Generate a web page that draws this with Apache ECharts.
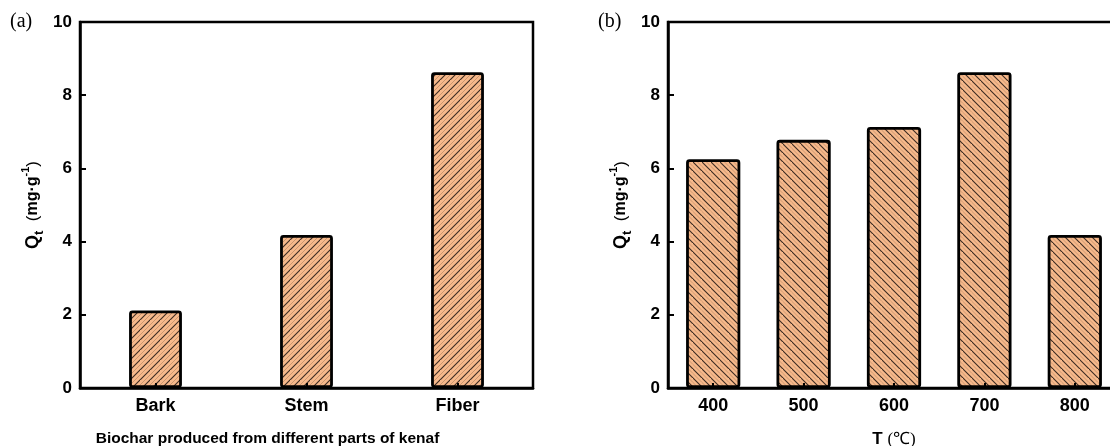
<!DOCTYPE html>
<html>
<head>
<meta charset="utf-8">
<script src="https://cdn.jsdelivr.net/npm/echarts@6/dist/echarts.min.js"></script>
<style>
  html, body { margin: 0; padding: 0; background: #fff; }
  #chart { width: 1110px; height: 446px; }
</style>
</head>
<body>
<div id="chart"></div>
<script>
// Adsorption capacity of kenaf biochar
const partCategories = ['Bark', 'Stem', 'Fiber'];
const partQt = [2.12, 4.18, 8.63];

const tempCategories = ['400', '500', '600', '700', '800'];
const tempQt = [6.25, 6.78, 7.13, 8.63, 4.18];

const yMin = 0;
const yMax = 10;
const yInterval = 2;

const FILL = '#F7B98B';

// Diagonal hatch tile: dark strokes with lighter strokes in between.
function hatchTile(size, forward) {
  const c = document.createElement('canvas');
  c.width = size; c.height = size;
  const g = c.getContext('2d');
  g.fillStyle = FILL;
  g.fillRect(0, 0, size, size);
  const lines = [
    { k: 0, color: '#3a2a20', w: 1.1 },
    { k: 0.5, color: '#c99670', w: 1 },
    { k: 1, color: '#3a2a20', w: 1.1 },
    { k: 1.5, color: '#c99670', w: 1 },
    { k: 2, color: '#3a2a20', w: 1.1 }
  ];
  lines.forEach(function (l) {
    const cc = l.k * size;
    g.strokeStyle = l.color;
    g.lineWidth = l.w;
    g.beginPath();
    if (forward) {
      // "/" lines: x + y = cc
      g.moveTo(cc, 0); g.lineTo(0, cc);
    } else {
      // "\" lines: (size - x) + y = cc
      g.moveTo(size - cc, 0); g.lineTo(size, cc);
    }
    g.stroke();
  });
  return c;
}

const FONT = '"Liberation Sans", Arial, sans-serif';
const SERIF = '"Liberation Serif", "Times New Roman", serif';

function yName() {
  return '{q|Q}{t|t}{p|  (}{u|mg·g}{s|-1}{p|)}';
}
const yNameRich = {
  q: { fontFamily: FONT, fontWeight: 'bold', fontSize: 18, color: '#000', lineHeight: 26, verticalAlign: 'middle' },
  t: { fontFamily: FONT, fontWeight: 'bold', fontSize: 13, color: '#000', lineHeight: 26, verticalAlign: 'bottom', padding: [7, 0, 0, 0] },
  p: { fontFamily: FONT, fontSize: 17, color: '#000', lineHeight: 26, verticalAlign: 'middle' },
  u: { fontFamily: FONT, fontWeight: 'bold', fontSize: 16, color: '#000', lineHeight: 26, verticalAlign: 'middle' },
  s: { fontFamily: FONT, fontWeight: 'bold', fontSize: 11, color: '#000', lineHeight: 26, verticalAlign: 'top', padding: [0, 0, 8, 0] }
};

function valueAxis(gridIndex) {
  return {
    type: 'value',
    gridIndex: gridIndex,
    min: yMin,
    max: yMax,
    interval: yInterval,
    name: yName(),
    nameLocation: 'middle',
    nameGap: 34,
    nameRotate: 90,
    nameTextStyle: { rich: yNameRich },
    axisLine: { show: true, lineStyle: { color: '#000', width: 2.5 } },
    axisTick: { show: true, inside: true, length: 6, lineStyle: { color: '#000', width: 2 } },
    axisLabel: { margin: 8, color: '#000', fontFamily: FONT, fontWeight: 'bold', fontSize: 17 },
    splitLine: { show: false },
    z: 3
  };
}

function categoryAxis(gridIndex, data, nameText, nameStyle) {
  return {
    type: 'category',
    gridIndex: gridIndex,
    data: data,
    name: nameText,
    nameLocation: 'middle',
    nameGap: 43,
    nameTextStyle: nameStyle,
    axisLine: { show: true, lineStyle: { color: '#000', width: 2.5 } },
    axisTick: { show: true, inside: true, alignWithLabel: true, length: 5, lineStyle: { color: '#000', width: 2 } },
    axisLabel: { margin: 9, color: '#000', fontFamily: FONT, fontWeight: 'bold', fontSize: 18 },
    z: 3
  };
}

const chart = echarts.init(document.getElementById('chart'), null, { renderer: 'canvas' });

chart.setOption({
  backgroundColor: '#fff',
  animation: false,
  grid: [
    { left: 80, top: 22, width: 453, height: 366, outerBoundsMode: 'none', containLabel: false,
      show: true, borderColor: '#000', borderWidth: 2.5, backgroundColor: 'transparent' },
    { left: 668, top: 22, width: 452, height: 366, outerBoundsMode: 'none', containLabel: false,
      show: true, borderColor: '#000', borderWidth: 2.5, backgroundColor: 'transparent' }
  ],
  xAxis: [
    categoryAxis(0, partCategories, 'Biochar produced from different parts of kenaf', {
      color: '#000', fontFamily: FONT, fontWeight: 'bold', fontSize: 15.5, padding: [0, 78, 0, 0]
    }),
    categoryAxis(1, tempCategories, '{b|T }{n|(℃)}', {
      rich: {
        b: { fontFamily: FONT, fontWeight: 'bold', fontSize: 17, color: '#000' },
        n: { fontFamily: SERIF, fontSize: 17, color: '#000' }
      }
    })
  ],
  yAxis: [valueAxis(0), valueAxis(1)],
  graphic: [
    { type: 'text', left: 10, top: 12, style: { text: '(a)', fontFamily: SERIF, fontSize: 20, fill: '#000' } },
    { type: 'text', left: 598, top: 12, style: { text: '(b)', fontFamily: SERIF, fontSize: 20, fill: '#000' } }
  ],
  series: [
    {
      type: 'bar',
      xAxisIndex: 0,
      yAxisIndex: 0,
      data: partQt,
      barWidth: '35%',
      itemStyle: {
        color: { image: hatchTile(10, true), repeat: 'repeat' },
        borderColor: '#000',
        borderWidth: 2.8,
        borderRadius: 2
      }
    },
    {
      type: 'bar',
      xAxisIndex: 1,
      yAxisIndex: 1,
      data: tempQt,
      barWidth: '60%',
      itemStyle: {
        color: { image: hatchTile(9, false), repeat: 'repeat' },
        borderColor: '#000',
        borderWidth: 2.8,
        borderRadius: 2
      }
    }
  ]
});
</script>
</body>
</html>
